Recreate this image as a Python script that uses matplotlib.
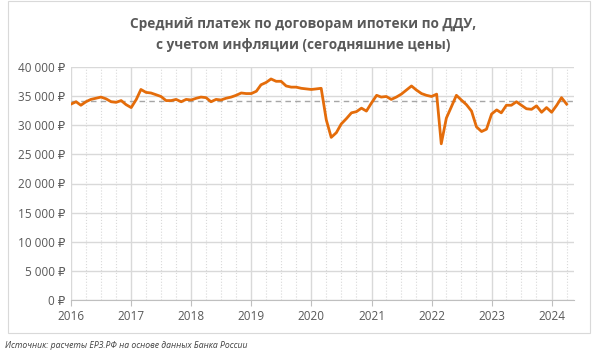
import numpy as np
import pandas as pd
import matplotlib
matplotlib.use("Agg")
import matplotlib.pyplot as plt
import matplotlib.dates as mdates
from matplotlib.ticker import FuncFormatter, MultipleLocator

plt.rcParams.update({
    "font.family": ["Open Sans", "DejaVu Sans"],
    "font.size": 8.5,
})

GREY_TXT = "#595959"
GRID = "#D9D9D9"
ORANGE = "#E46C0A"

# monthly average payment, rub, Jan 2016 .. Apr 2024 (today's prices)
START = "2016-01-01"
payment = [
    33600, 34000, 33400, 34000, 34400, 34600, 34800, 34500, 34000, 33900, 34200, 33500,  # 2016
    33000, 34400, 36100, 35600, 35500, 35200, 34900, 34200, 34200, 34400, 34000, 34400,  # 2017
    34300, 34600, 34800, 34700, 34000, 34400, 34300, 34600, 34800, 35100, 35500, 35400,  # 2018
    35400, 35800, 36900, 37300, 37900, 37500, 37500, 36700, 36500, 36500, 36300, 36200,  # 2019
    36100, 36200, 36300, 30900, 27900, 28700, 30200, 31100, 32100, 32300, 32900, 32400,  # 2020
    33800, 35100, 34800, 34900, 34400, 34800, 35300, 36000, 36700, 36000, 35400, 35100,  # 2021
    34900, 35300, 26800, 31200, 33100, 35100, 34300, 33500, 32400, 29700, 28900, 29300,  # 2022
    31900, 32600, 32100, 33400, 33400, 34000, 33400, 32800, 32700, 33300, 32200, 33000,  # 2023
    32200, 33400, 34700, 33600,                                                          # 2024
]
AVG_LEVEL = 34100  # dashed reference line

TITLE = "Средний платеж по договорам ипотеки по ДДУ,\nс учетом инфляции (сегодняшние цены)"
SOURCE = "Источник: расчеты ЕРЗ.РФ на основе данных Банка России"

dates = pd.date_range(START, periods=len(payment), freq="MS")

fig = plt.figure(figsize=(5.96, 3.52), dpi=100)
ax = fig.add_axes([71 / 596, 1 - 300.3 / 352, 503 / 596, 233.6 / 352])

# chart frame
fig.add_artist(plt.Rectangle((8 / 596, 1 - 333 / 352), 582 / 596, 332 / 352,
                             transform=fig.transFigure, fill=False,
                             edgecolor=GRID, lw=0.8))

ax.plot(dates, payment, color=ORANGE, lw=2.0, solid_joinstyle="round", zorder=3)
ax.axhline(AVG_LEVEL, color="#A6A6A6", ls=(0, (4, 3)), lw=1.0, zorder=2)

ax.set_ylim(0, 40000)
ax.set_xlim(pd.Timestamp("2016-01-01"), pd.Timestamp("2024-05-16"))
ax.yaxis.set_major_locator(MultipleLocator(5000))
ax.yaxis.set_major_formatter(FuncFormatter(
    lambda v, p: f"{int(v):,}".replace(",", " ") + " ₽"))
ax.xaxis.set_major_locator(mdates.YearLocator())
ax.xaxis.set_major_formatter(mdates.DateFormatter("%Y"))
ax.xaxis.set_minor_locator(mdates.MonthLocator(bymonth=[4, 7, 10]))

ax.grid(True, which="major", color=GRID, lw=1.0)
ax.grid(True, which="minor", axis="x", color=GRID, lw=0.8, ls=":")
ax.set_axisbelow(True)

for s in ["top", "right", "left"]:
    ax.spines[s].set_visible(False)
ax.spines["bottom"].set_color("#BFBFBF")
ax.tick_params(axis="y", length=0, colors=GREY_TXT, labelsize=8.5, pad=4)
ax.tick_params(axis="x", which="major", length=4, color="#BFBFBF",
               colors=GREY_TXT, labelsize=8.5, pad=3)
ax.tick_params(axis="x", which="minor", length=0)

fig.text(303 / 596, 1 - 34 / 352, TITLE, ha="center", va="center",
         fontsize=9.8, fontweight="bold", color=GREY_TXT, linespacing=1.65)
fig.text(5 / 596, 1 - 346 / 352, SOURCE, ha="left", va="center",
         fontsize=6.2, style="italic", color="#404040")

fig.savefig("out.png", dpi=100)
